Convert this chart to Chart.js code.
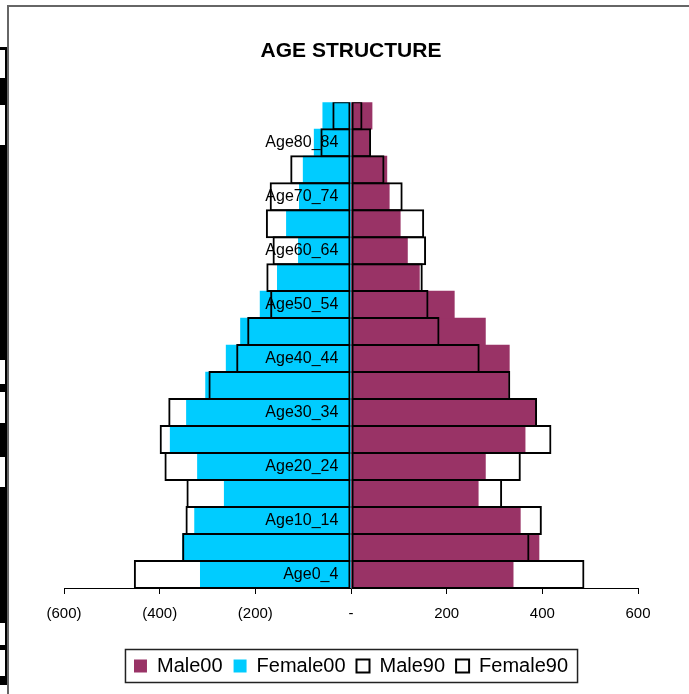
<!DOCTYPE html>
<html>
<head>
<meta charset="utf-8">
<title>Age structure</title>
<script src="https://cdn.jsdelivr.net/npm/chart.js@4/dist/chart.umd.min.js"></script>
<style>
  html, body { margin: 0; padding: 0; background: #fff; }
  #wrap { width: 689px; height: 694px; }
</style>
</head>
<body>
<div id="wrap"><canvas id="myChart"></canvas></div>
<script>
const ageGroups = ['Age0_4', 'Age5_9', 'Age10_14', 'Age15_19', 'Age20_24', 'Age25_29', 'Age30_34',
  'Age35_39', 'Age40_44', 'Age45_49', 'Age50_54', 'Age55_59', 'Age60_64', 'Age65_69',
  'Age70_74', 'Age75_79', 'Age80_84', 'Age85+'];

const male00 = [339, 393, 354, 266, 281, 364, 387, 329, 331, 281, 216, 143, 118, 103, 80, 75, 38, 44];
const female00 = [-315, -352, -327, -265, -321, -378, -344, -304, -261, -231, -190, -154, -110, -135, -108, -100, -77, -59];
const male90 = [488, 373, 399, 316, 355, 419, 389, 333, 269, 185, 162, 150, 157, 153, 108, 70, 42, 24];
const female90 = [-454, -353, -346, -344, -390, -400, -382, -298, -240, -217, -169, -177, -164, -178, -170, -127, -64, -39];

const xTicks = [-600, -400, -200, 0, 200, 400, 600];

function formatTick(v) {
  if (v === 0) return '-';
  if (v < 0) return '(' + (-v) + ')';
  return String(v);
}

// frame of the sheet object and the cut-off cells on the left
const sheetBits = {
  id: 'sheetBits',
  beforeDraw(chart) {
    const ctx = chart.ctx;
    ctx.save();
    ctx.fillStyle = '#000';
    ctx.fillRect(0, 47, 7, 638);
    ctx.fillStyle = '#fff';
    const gaps = [[50, 28], [105, 40], [360, 24], [392, 31], [457, 30], [623, 22], [650, 26]];
    gaps.forEach(g => ctx.fillRect(0, g[0], 5, g[1]));
    ctx.strokeStyle = '#666';
    ctx.lineWidth = 2;
    ctx.beginPath();
    ctx.moveTo(8, 700);
    ctx.lineTo(8, 6);
    ctx.lineTo(700, 6);
    ctx.stroke();
    ctx.restore();
  }
};

// box round the legend
const legendFrame = {
  id: 'legendFrame',
  afterDraw(chart) {
    const boxes = chart.legend.legendHitBoxes;
    if (!boxes || !boxes.length) return;
    const first = boxes[0];
    const last = boxes[boxes.length - 1];
    const cy = first.top + first.height / 2;
    const ctx = chart.ctx;
    ctx.save();
    ctx.strokeStyle = '#222';
    ctx.lineWidth = 1.5;
    ctx.strokeRect(first.left - 8.5, cy - 16.5, (last.left + last.width) - first.left + 18, 33);
    ctx.restore();
  }
};

Chart.defaults.font.family = '"Liberation Sans", Arial, sans-serif';
Chart.defaults.color = '#000';

const ctx = document.getElementById('myChart').getContext('2d');
const myChart = new Chart(ctx, {
  type: 'bar',
  data: {
    labels: ageGroups,
    datasets: [
      {
        label: 'Male00',
        data: male00,
        backgroundColor: '#993366',
        borderWidth: 0,
        order: 2
      },
      {
        label: 'Female00',
        data: female00,
        backgroundColor: '#00CCFF',
        borderWidth: 0,
        order: 2
      },
      {
        label: 'Male90',
        data: male90,
        backgroundColor: 'rgba(255,255,255,0)',
        borderColor: '#000',
        borderWidth: 2,
        borderSkipped: false,
        barPercentage: 1.074,
        order: 1
      },
      {
        label: 'Female90',
        data: female90,
        backgroundColor: 'rgba(255,255,255,0)',
        borderColor: '#000',
        borderWidth: 2,
        borderSkipped: false,
        barPercentage: 1.074,
        order: 1
      }
    ]
  },
  options: {
    indexAxis: 'y',
    responsive: true,
    maintainAspectRatio: false,
    animation: false,
    devicePixelRatio: 1,
    grouped: false,
    categoryPercentage: 1,
    barPercentage: 1,
    layout: {
      padding: { left: 64, right: 51, top: 0, bottom: 8 }
    },
    scales: {
      x: {
        type: 'linear',
        min: -600,
        max: 600,
        afterBuildTicks: (axis) => { axis.ticks = xTicks.map(v => ({ value: v })); },
        afterFit: (axis) => { axis.height += 11; },
        ticks: {
          callback: formatTick,
          font: { size: 15 },
          padding: 11,
          maxRotation: 0
        },
        grid: { drawOnChartArea: false, drawTicks: true, tickLength: 6, color: '#000' },
        border: { display: true, color: '#000', width: 1 }
      },
      y: {
        type: 'category',
        reverse: true,
        // labels sit a little left of the zero line
        position: { x: -26.5 },
        ticks: {
          z: 2,
          autoSkip: false,
          font: { size: 16 },
          callback: function (value) {
            return value % 2 === 0 ? this.getLabelForValue(value) : '';
          }
        },
        grid: { display: false, drawTicks: false },
        border: { display: false }
      }
    },
    plugins: {
      title: {
        display: true,
        text: 'AGE STRUCTURE',
        font: { size: 21, weight: 'bold' },
        color: '#000',
        padding: { top: 39, bottom: 38 }
      },
      legend: {
        position: 'bottom',
        labels: {
          boxWidth: 13,
          boxHeight: 13,
          padding: 11,
          font: { size: 20 },
          color: '#000',
          sort: (a, b) => a.datasetIndex - b.datasetIndex
        }
      },
      tooltip: { enabled: false }
    }
  },
  plugins: [sheetBits, legendFrame]
});
</script>
</body>
</html>
